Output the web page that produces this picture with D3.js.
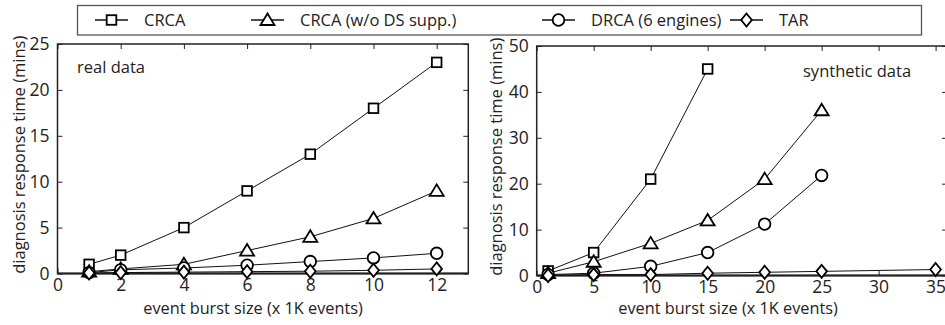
<!DOCTYPE html>
<html><head><meta charset="utf-8">
<script src="https://cdn.jsdelivr.net/npm/d3@7"></script>
<style>body{margin:0;background:#fff}svg{display:block;font-family:"Open Sans",sans-serif}</style>
</head><body><svg id="c" width="945" height="325"></svg>
<script>
const seriesNames = ["CRCA", "CRCA (w/o DS supp.)", "DRCA (6 engines)", "TAR"];
const seriesMarkers = ["square", "triangle", "circle", "diamond"];

const realX = [1, 2, 4, 6, 8, 10, 12];
const realCRCA = [1, 2, 5, 9, 13, 18, 23];
const realCRCAnoDS = [0.2, 0.5, 1.0, 2.5, 4, 6, 9];
const realDRCA = [0.1, 0.4, 0.6, 0.9, 1.3, 1.7, 2.2];
const realTAR = [0.05, 0.1, 0.15, 0.2, 0.25, 0.35, 0.5];

const synX = [1, 5, 10, 15, 20, 25, 35];
const synCRCA = [1, 5, 21, 45, null, null, null];
const synCRCAnoDS = [0.5, 3, 7, 12, 21, 36, null];
const synDRCA = [0.2, 0.5, 2, 5, 11.2, 21.8, null];
const synTAR = [0, 0.2, 0.2, 0.5, 0.7, 0.9, 1.3];

const realXTicks = [0, 2, 4, 6, 8, 10, 12];
const realYTicks = [0, 5, 10, 15, 20, 25];
const synXTicks = [0, 5, 10, 15, 20, 25, 30, 35];
const synYTicks = [0, 10, 20, 30, 40, 50];

const svg = d3.select("#c");
const FONT = "Open Sans, sans-serif";

function marker(g, type, x, y) {
  const st = {fill: "#fff", stroke: "#000", "stroke-width": 1.8};
  let m;
  if (type === "square") m = g.append("rect").attr("x", x - 4.8).attr("y", y - 4.8).attr("width", 9.6).attr("height", 9.6);
  else if (type === "triangle") m = g.append("path").attr("d", `M${x},${y-6.5}L${x+7},${y+5}L${x-7},${y+5}Z`);
  else if (type === "circle") m = g.append("circle").attr("cx", x).attr("cy", y).attr("r", 5.8);
  else m = g.append("path").attr("d", `M${x},${y-6.5}L${x+5.3},${y}L${x},${y+6.5}L${x-5.3},${y}Z`);
  for (const k in st) m.attr(k, st[k]);
}

function panel(cfg) {
  const x = d3.scaleLinear().domain(cfg.xDomain).range([cfg.left, cfg.right]);
  const y = d3.scaleLinear().domain(cfg.yDomain).range([cfg.bottom, cfg.top]);
  const g = svg.append("g");
  const tl = 5;
  const axB = d3.axisBottom(x).tickValues(cfg.xTicks).tickSizeInner(-tl).tickSizeOuter(0).tickPadding(7);
  const axT = d3.axisTop(x).tickValues(cfg.xTicks).tickSizeInner(-tl).tickSizeOuter(0).tickFormat("");
  const axL = d3.axisLeft(y).tickValues(cfg.yTicks).tickSizeInner(-tl).tickSizeOuter(0).tickPadding(8);
  const axR = d3.axisRight(y).tickValues(cfg.yTicks).tickSizeInner(-tl).tickSizeOuter(0).tickFormat("");
  const gb = g.append("g").attr("transform", `translate(0,${cfg.bottom})`).call(axB);
  const gt = g.append("g").attr("transform", `translate(0,${cfg.top})`).call(axT);
  const gl = g.append("g").attr("transform", `translate(${cfg.left},0)`).call(axL);
  const gr = g.append("g").attr("transform", `translate(${cfg.right},0)`).call(axR);
  [gb, gt, gl, gr].forEach(a => {
    a.select(".domain").remove();
    a.selectAll("line").attr("stroke", "#222").attr("stroke-width", 1);
    a.selectAll("text").attr("font-family", FONT).attr("font-size", 17.5).attr("fill", "#222");
  });
  gb.selectAll("text").attr("dy", "0.62em");
  g.append("rect").attr("x", cfg.left).attr("y", cfg.top)
    .attr("width", cfg.right - cfg.left).attr("height", cfg.bottom - cfg.top)
    .attr("fill", "none").attr("stroke", "#222").attr("stroke-width", 1.5);
  g.append("line").attr("x1", cfg.left).attr("x2", cfg.right).attr("y1", cfg.bottom).attr("y2", cfg.bottom)
    .attr("stroke", "#222").attr("stroke-width", 2);
  const line = d3.line().x(d => x(d[0])).y(d => y(d[1]));
  cfg.series.forEach((vals, i) => {
    const pts = cfg.xs.map((xv, j) => [xv, vals[j]]).filter(d => d[1] != null);
    g.append("path").datum(pts).attr("d", line).attr("fill", "none").attr("stroke", "#111").attr("stroke-width", 1);
  });
  cfg.series.forEach((vals, i) => {
    cfg.xs.forEach((xv, j) => { if (vals[j] != null) marker(g, seriesMarkers[i], x(xv), y(vals[j])); });
  });
  g.append("text").attr("x", cfg.xTitleX).attr("y", 314).attr("text-anchor", "middle")
    .attr("font-family", FONT).attr("font-size", 16.3).attr("fill", "#222").text("event burst size (x 1K events)");
  g.append("text").attr("transform", `translate(${cfg.yTitleX},${(cfg.top + cfg.bottom) / 2 - 4}) rotate(-90)`)
    .attr("text-anchor", "middle").attr("font-family", FONT).attr("font-size", 16.5).attr("fill", "#222")
    .text("diagnosis response time (mins)");
  g.append("text").attr("x", cfg.noteX).attr("y", cfg.noteY).attr("font-family", FONT).attr("font-size", 16.5)
    .attr("fill", "#222").text(cfg.note);
}

panel({left: 57.5, right: 468.3, top: 44, bottom: 273.5, xDomain: [0, 13], yDomain: [0, 25],
  xTicks: realXTicks, yTicks: realYTicks, xs: realX,
  series: [realCRCA, realCRCAnoDS, realDRCA, realTAR],
  xTitleX: 253, yTitleX: 25, note: "real data", noteX: 77, noteY: 73});
panel({left: 536.7, right: 947, top: 46, bottom: 275.5, xDomain: [0, 36], yDomain: [0, 50],
  xTicks: synXTicks, yTicks: synYTicks, xs: synX,
  series: [synCRCA, synCRCAnoDS, synDRCA, synTAR],
  xTitleX: 728, yTitleX: 502, note: "synthetic data", noteX: 803, noteY: 77});

const lg = svg.append("g");
lg.append("rect").attr("x", 77.5).attr("y", 5.5).attr("width", 844).attr("height", 29.5)
  .attr("fill", "#fff").attr("stroke", "#555").attr("stroke-width", 1.3);
const legX = [95, 251, 542, 730];
seriesNames.forEach((n, i) => {
  const x0 = legX[i], cy = 20;
  lg.append("line").attr("x1", x0).attr("x2", x0 + 33).attr("y1", cy).attr("y2", cy).attr("stroke", "#111").attr("stroke-width", 1.3);
  marker(lg, seriesMarkers[i], x0 + 16.5, cy);
  lg.append("text").attr("x", x0 + 49).attr("y", cy + 6).attr("font-family", FONT).attr("font-size", 16.5)
    .attr("fill", "#222").text(n);
});
</script></body></html>
